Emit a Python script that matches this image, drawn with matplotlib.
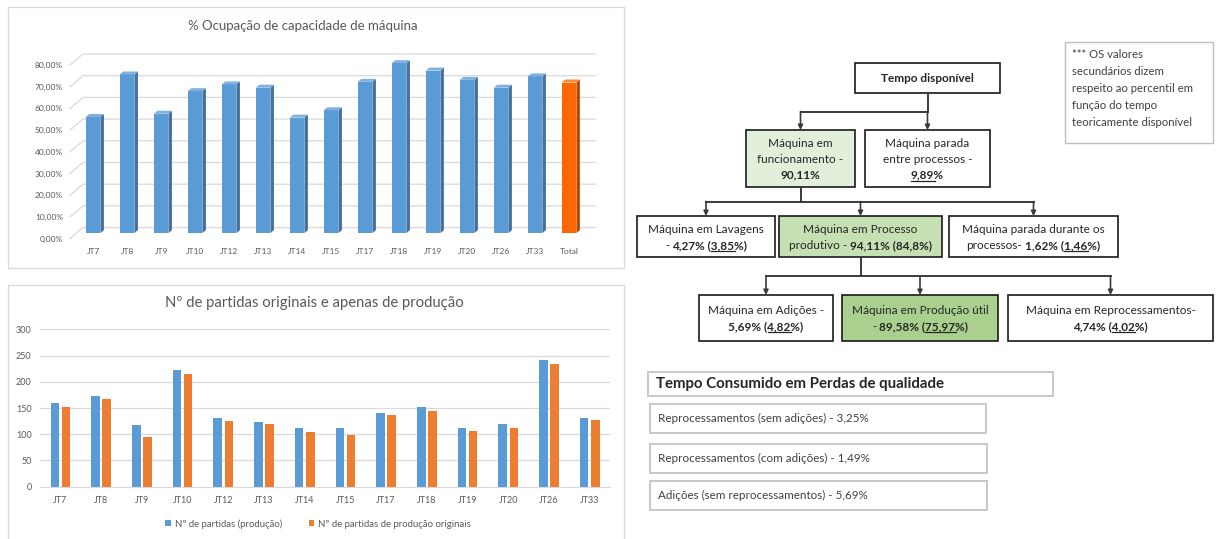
import numpy as np
import matplotlib
matplotlib.use("Agg")
import matplotlib.pyplot as plt
from matplotlib.patches import Rectangle, Polygon
from matplotlib.transforms import IdentityTransform, offset_copy

plt.rcParams['font.family'] = ['Lato', 'DejaVu Sans']

# dados - % ocupação de capacidade
maquinas_ocup = ["JT7", "JT8", "JT9", "JT10", "JT12", "JT13", "JT14", "JT15",
                 "JT17", "JT18", "JT19", "JT20", "JT26", "JT33", "Total"]
ocupacao = [53.5, 73.1, 55.0, 65.4, 68.5, 67.0, 53.2, 56.6,
            69.7, 78.3, 74.9, 70.6, 67.0, 72.2, 69.4]
ticks_ocup = [0, 10, 20, 30, 40, 50, 60, 70, 80]

# dados - nº de partidas
maquinas_part = ["JT7", "JT8", "JT9", "JT10", "JT12", "JT13", "JT14",
                 "JT15", "JT17", "JT18", "JT19", "JT20", "JT26", "JT33"]
partidas_prod = [159, 172, 117, 222, 131, 123, 112, 112, 140, 151, 112, 120, 242, 131]
partidas_orig = [151, 167, 95, 214, 125, 120, 104, 98, 137, 145, 106, 112, 233, 128]
ticks_part = [0, 50, 100, 150, 200, 250, 300]

# textos do diagrama: (texto, negrito, trecho sublinhado)
caixas_texto = [
    [[("Tempo disponível", True, "")]],
    [[("Máquina em", False, "")], [("funcionamento -", False, "")], [("90,11%", True, "")]],
    [[("Máquina parada", False, "")], [("entre processos -", False, "")], [("9,89%", True, "9,89")]],
    [[("Máquina em Lavagens", False, "")],
     [("- ", False, ""), ("4,27% (3,85%)", True, "3,85")]],
    [[("Máquina em Processo", False, "")],
     [("produtivo - ", False, ""), ("94,11% (84,8%)", True, "")]],
    [[("Máquina parada durante os", False, "")],
     [("processos- ", False, ""), ("1,62% (1,46%)", True, "1,46")]],
    [[("Máquina em Adições -", False, "")],
     [("5,69% (4,82%)", True, "4,82")]],
    [[("Máquina em Produção útil", False, "")],
     [("- ", False, ""), ("89,58% (75,97%)", True, "75,97")]],
    [[("Máquina em Reprocessamentos-", False, "")],
     [("4,74% (4,02%)", True, "4,02")]],
]
# ligações: pai -> filhos
ligacoes = [(0, [1, 2]), (1, [3, 4, 5]), (4, [6, 7, 8])]

nota = ["*** OS valores", "secundários dizem", "respeito ao percentil em",
        "função do tempo", "teoricamente disponível"]
perdas_titulo = "Tempo Consumido em Perdas de qualidade"
perdas_itens = ["Reprocessamentos (sem adições) - 3,25%",
                "Reprocessamentos (com adições) - 1,49%",
                "Adições (sem reprocessamentos) - 5,69%"]

# layout em pixels (x0, y0, x1, y1), y para baixo
W, H = 1216, 539
caixas_pos = [(855, 63, 1000, 93), (746, 130, 855, 187), (865, 130, 990, 187),
              (637, 216, 775, 257), (779, 216, 942, 257), (949, 216, 1118, 257),
              (699, 295, 833, 341), (842, 295, 998, 341), (1008, 295, 1213, 341)]
caixas_cor = ["white", "#E2EFDA", "white", "white", "#C6E0B4", "white",
              "white", "#A9D08E", "white"]
perdas_pos = [(650, 404, 986, 433), (650, 444, 987, 473), (650, 481, 987, 510)]

azul, azul_lado, azul_topo = "#5B9BD5", "#41719C", "#7FB0DE"
laranja, laranja_lado, laranja_topo = "#FF6600", "#B84A00", "#FF8A3D"
cinza_txt = "#595959"
grade = "#D9D9D9"


def fr(x0, y0, x1, y1):
    return [x0 / W, 1 - y1 / H, (x1 - x0) / W, (y1 - y0) / H]


fig = plt.figure(figsize=(W / 100, H / 100), dpi=100)
renderer = fig.canvas.get_renderer()

# camada de desenho livre (coordenadas em pixels)
ovl = fig.add_axes([0, 0, 1, 1])
ovl.set_xlim(0, W)
ovl.set_ylim(H, 0)
ovl.axis("off")
ovl.add_patch(Rectangle((8, 7), 616, 261, fill=False, ec=grade, lw=0.9))
ovl.add_patch(Rectangle((8, 285), 616, 270, fill=False, ec=grade, lw=0.9))

# ---------------- grafico 1: ocupação (3D falso) ----------------
ax1 = fig.add_axes(fr(70, 65, 582, 238.6))
ax1.set_facecolor("none")
ax1.set_xlim(-0.68, 14.38)
ax1.set_ylim(0, 80)
for s in ax1.spines.values():
    s.set_visible(False)

x1 = np.arange(len(maquinas_ocup))
w1 = 0.43
gx, gy = 13, 11
for v in ticks_ocup:
    fx, fy = ax1.transData.transform((-0.68, v))
    rx = ax1.transAxes.transform((1, 0))[0] + gx
    ax1.plot([fx, fx + gx, rx], [fy, fy + gy, fy + gy], color=grade, lw=0.9,
             transform=IdentityTransform(), clip_on=False, zorder=1)

cores = [azul] * (len(maquinas_ocup) - 1) + [laranja]
lados = [azul_lado] * (len(maquinas_ocup) - 1) + [laranja_lado]
topos = [azul_topo] * (len(maquinas_ocup) - 1) + [laranja_topo]
bar_tr = offset_copy(ax1.transData, fig=fig, x=0, y=5.5, units="dots")
ax1.bar(x1, ocupacao, width=w1, color=cores, transform=bar_tr, clip_on=False, zorder=3)
dx, dy = 3.5, 3
for xi, v, cl, ct in zip(x1, ocupacao, lados, topos):
    (xl, y0), (xr, y1) = bar_tr.transform([(xi - w1 / 2, 0), (xi + w1 / 2, v)])
    lado = [(xr, y0), (xr + dx, y0 + dy), (xr + dx, y1 + dy), (xr, y1)]
    topo = [(xl, y1), (xr, y1), (xr + dx, y1 + dy), (xl + dx, y1 + dy)]
    ax1.add_patch(Polygon(lado, closed=True, fc=cl, lw=0, transform=IdentityTransform(),
                          clip_on=False, zorder=3))
    ax1.add_patch(Polygon(topo, closed=True, fc=ct, lw=0, transform=IdentityTransform(),
                          clip_on=False, zorder=3))

ax1.set_yticks(ticks_ocup)
ax1.set_yticklabels([("%.2f" % t).replace(".", ",") + "%" for t in ticks_ocup])
ax1.set_xticks(x1)
ax1.set_xticklabels(maquinas_ocup)
ax1.tick_params(axis="y", length=0, pad=5, labelsize=6, labelcolor=cinza_txt)
ax1.tick_params(axis="x", length=0, pad=7, labelsize=6, labelcolor=cinza_txt)
fig.text(303 / W, 1 - 26 / H, "% Ocupação de capacidade de máquina", ha="center",
         va="center", fontsize=9.5, color=cinza_txt)

# ---------------- grafico 2: nº de partidas ----------------
ax2 = fig.add_axes(fr(40, 329.3, 610, 486.7))
ax2.set_facecolor("none")
x2 = np.arange(len(maquinas_part))
ax2.bar(x2 - 0.135, partidas_prod, width=0.21, color=azul, label="Nº de partidas (produção)")
ax2.bar(x2 + 0.14, partidas_orig, width=0.21, color="#ED7D31",
        label="Nº de partidas de produção originais")
ax2.set_xlim(-0.5, 13.5)
ax2.set_ylim(0, 300)
ax2.set_yticks(ticks_part)
ax2.set_xticks(x2)
ax2.set_xticklabels(maquinas_part)
ax2.yaxis.grid(True, color=grade, lw=0.9)
ax2.set_axisbelow(True)
for k, s in ax2.spines.items():
    s.set_visible(k == "bottom")
ax2.spines["bottom"].set_color(grade)
ax2.tick_params(axis="y", length=0, pad=6, labelsize=6.5, labelcolor=cinza_txt)
ax2.tick_params(axis="x", length=0, pad=7, labelsize=6.5, labelcolor=cinza_txt)
ax2.legend(loc="center", bbox_to_anchor=(318 / W, 1 - 524 / H), bbox_transform=fig.transFigure,
           ncol=2, frameon=False, fontsize=6.9, handlelength=0.6, handleheight=0.6,
           columnspacing=2.8, handletextpad=0.4, labelcolor=cinza_txt)
fig.text(314 / W, 1 - 303 / H, "Nº de partidas originais e apenas de produção", ha="center",
         va="center", fontsize=10.7, color=cinza_txt)

# ---------------- diagrama ----------------
cor_txt = "#262626"
cor_linha = "#3A3A3A"


def largura(texto, peso, tam):
    t = ovl.text(0, 0, texto, fontsize=tam, fontweight=peso)
    wd = t.get_window_extent(renderer).width
    t.remove()
    return wd


def avanco(texto, peso, tam):
    # largura de avanço (inclui espaços e margens dos glifos)
    if not texto:
        return 0
    return largura("n" + texto + "n", peso, tam) - largura("nn", peso, tam)


def texto_rico(cx, cy, linhas, tam=8.5, passo=16):
    em = tam * 100 / 72
    n = len(linhas)
    for i, segs in enumerate(linhas):
        yb = cy + (i - (n - 1) / 2) * passo + 0.36 * em
        pecas = []
        total = 0
        for s, neg, sub in segs:
            peso = "bold" if neg else "normal"
            pecas.append((s.rstrip(" "), peso, sub, total))
            total += avanco(s, peso, tam)
        x0 = cx - total / 2
        for s, peso, sub, off in pecas:
            ovl.text(x0 + off, yb, s, fontsize=tam, fontweight=peso, va="baseline",
                     ha="left", color=cor_txt)
            if sub:
                u0 = x0 + off + avanco(s[:s.index(sub)], peso, tam)
                u1 = u0 + largura(sub, peso, tam) + 0.5
                ovl.plot([u0, u1], [yb + 2, yb + 2], color=cor_txt, lw=0.9)


for (bx0, by0, bx1, by1), cor, linhas in zip(caixas_pos, caixas_cor, caixas_texto):
    ovl.add_patch(Rectangle((bx0, by0), bx1 - bx0, by1 - by0, fc=cor, ec="#1A1A1A", lw=1.2))
    texto_rico((bx0 + bx1) / 2, (by0 + by1) / 2, linhas)

for pai, filhos in ligacoes:
    px = (caixas_pos[pai][0] + caixas_pos[pai][2]) / 2
    pb = caixas_pos[pai][3]
    ct = caixas_pos[filhos[0]][1]
    ym = (pb + ct) / 2
    cxs = [(caixas_pos[f][0] + caixas_pos[f][2]) / 2 for f in filhos]
    ovl.plot([px, px], [pb, ym], color=cor_linha, lw=1.4)
    ovl.plot([min(cxs + [px]), max(cxs + [px])], [ym, ym], color=cor_linha, lw=1.4)
    for f, cx in zip(filhos, cxs):
        ovl.annotate("", xy=(cx, caixas_pos[f][1]), xytext=(cx, ym),
                     arrowprops=dict(arrowstyle="-|>", color=cor_linha, lw=1.2,
                                     mutation_scale=7, shrinkA=0, shrinkB=0))

# nota
ovl.add_patch(Rectangle((1065, 42), 148, 101, fill=False, ec="#BFBFBF", lw=1))
for i, linha in enumerate(nota):
    ovl.text(1072, 55 + i * 16.8, linha, fontsize=8.2, va="center", ha="left", color="#404040")

# perdas de qualidade
ovl.add_patch(Rectangle((648, 372), 405, 24, fill=False, ec="#BFBFBF", lw=1.2))
ovl.text(656, 384, perdas_titulo, fontsize=10.8, fontweight="bold", va="center", ha="left",
         color=cor_txt)
for (bx0, by0, bx1, by1), item in zip(perdas_pos, perdas_itens):
    ovl.add_patch(Rectangle((bx0, by0), bx1 - bx0, by1 - by0, fill=False, ec="#BFBFBF", lw=1.2))
    ovl.text(bx0 + 8, (by0 + by1) / 2, item, fontsize=8.4, va="center", ha="left", color="#404040")

fig.savefig("out.png", dpi=100)
